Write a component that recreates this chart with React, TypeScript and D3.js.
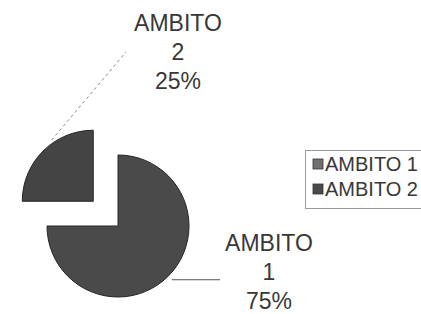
import React, { useEffect, useRef } from 'react'
import * as d3 from 'd3'

const categories = ['AMBITO 1', 'AMBITO 2']
const values = [75, 25]
const pctLabels = ['75%', '25%']

const SLICE_COLORS = ['#4a4a4a', '#444444']
const LEGEND_COLORS = ['#707070', '#4a4a4a']
const TEXT_COLOR = '#383838'
const FONT = '"Liberation Sans", Arial, sans-serif'

export default function App() {
  const svgRef = useRef<SVGSVGElement | null>(null)

  useEffect(() => {
    if (!svgRef.current) return
    const W = 421
    const H = 314
    const svg = d3.select(svgRef.current)
    svg.selectAll('*').remove()
    svg.attr('width', W).attr('height', H)

    svg.append('rect').attr('width', W).attr('height', H).attr('fill', '#fff')

    const cx = 118, cy = 226, r = 71
    const explode = 35

    const pie = d3.pie<number>().sort(null).startAngle(0).endAngle(2 * Math.PI)
    const arcs = pie(values)
    const arc = d3.arc<d3.PieArcDatum<number>>().innerRadius(0).outerRadius(r)

    const g = svg.append('g').attr('transform', `translate(${cx},${cy})`)

    // only AMBITO 2 is pulled out
    const offset = (d: d3.PieArcDatum<number>, i: number) => {
      if (i !== 1) return [0, 0]
      const a = (d.startAngle + d.endAngle) / 2
      return [Math.sin(a) * explode, -Math.cos(a) * explode]
    }

    arcs.forEach((d, i) => {
      const [ox, oy] = offset(d, i)
      g.append('path')
        .attr('d', arc(d) as string)
        .attr('transform', `translate(${ox},${oy})`)
        .attr('fill', SLICE_COLORS[i])
        .attr('stroke', '#262626').attr('stroke-width', 1)
    })

    const pt = (a: number, rad: number, o: number[]) =>
      [o[0] + Math.sin(a) * rad, o[1] - Math.cos(a) * rad]

    // leader line for AMBITO 1 (solid, horizontal)
    const p1 = pt(Math.PI * 0.75, r + 5, [0, 0])
    g.append('line')
      .attr('x1', p1[0]).attr('y1', p1[1]).attr('x2', 220 - cx).attr('y2', p1[1])
      .attr('stroke', '#555').attr('stroke-width', 1)

    // leader line for AMBITO 2 (dashed)
    const o2 = offset(arcs[1], 1)
    const p2 = pt(Math.PI * 1.81, r + 3, o2)
    g.append('line')
      .attr('x1', p2[0]).attr('y1', p2[1]).attr('x2', 126 - cx).attr('y2', 52 - cy)
      .attr('stroke', '#8a8a8a').attr('stroke-width', 1).attr('stroke-dasharray', '3,3')

    // data labels
    const labelPos = [[269, 243], [178, 23]]
    arcs.forEach((d, i) => {
      const [lx, ly] = labelPos[i]
      const parts = ['AMBITO', String(i + 1), pctLabels[i]]
      parts.forEach((t, j) => {
        svg.append('text')
          .attr('x', lx).attr('y', ly + j * 29)
          .attr('dy', '0.36em')
          .attr('text-anchor', 'middle')
          .attr('fill', TEXT_COLOR)
          .attr('font-family', FONT).attr('font-size', 23)
          .text(t)
      })
    })

    // legend
    const lg = svg.append('g').attr('transform', 'translate(305,150)')
    lg.append('rect').attr('x', 0.5).attr('y', 0.5).attr('width', 130).attr('height', 58)
      .attr('fill', '#fff').attr('stroke', '#9a9a9a').attr('stroke-width', 1)
    categories.forEach((c, i) => {
      const y = 14 + i * 25
      lg.append('rect').attr('x', 8).attr('y', y - 5).attr('width', 10).attr('height', 10)
        .attr('fill', LEGEND_COLORS[i]).attr('stroke', '#333').attr('stroke-width', 0.8)
      lg.append('text').attr('x', 20).attr('y', y).attr('dy', '0.36em')
        .attr('fill', TEXT_COLOR).attr('font-family', FONT).attr('font-size', 20)
        .text(c)
    })
  }, [])

  return (
    <div style={{ position: 'fixed', left: 0, top: 0, width: 421, height: 314, overflow: 'hidden' }}>
      <svg ref={svgRef} style={{ display: 'block' }} />
    </div>
  )
}
